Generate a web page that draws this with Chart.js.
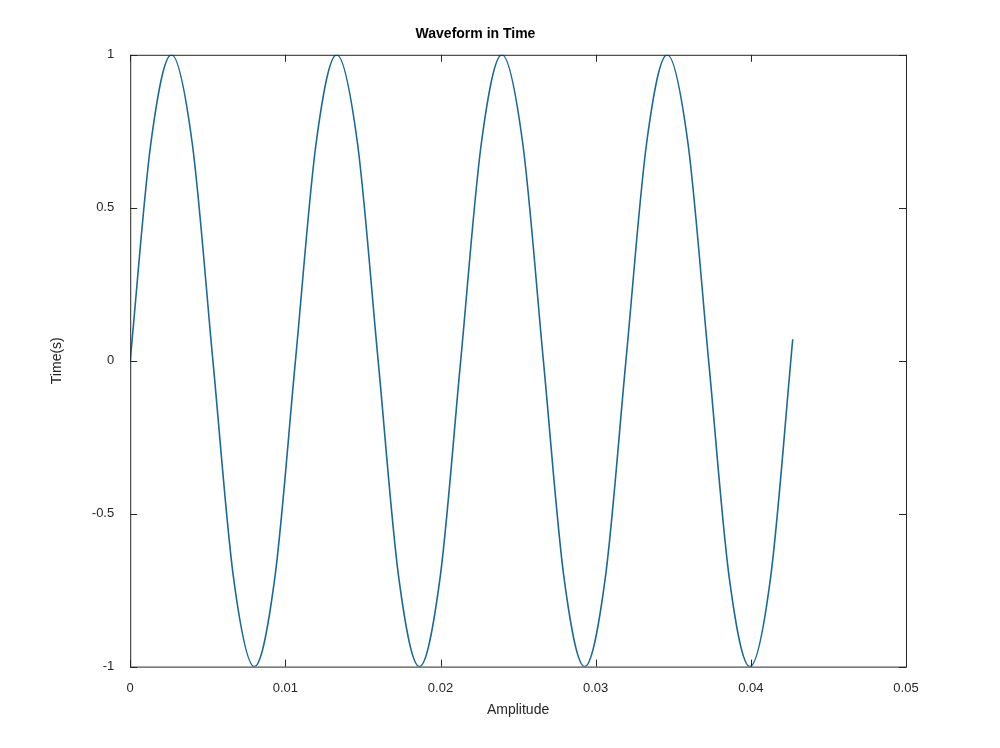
<!DOCTYPE html>
<html><head><meta charset="utf-8">
<script src="https://cdn.jsdelivr.net/npm/chart.js@4"></script>
<style>html,body{margin:0;background:#fff}#w{width:1000px;height:748px}</style>
</head><body><div id="w"><canvas id="c"></canvas></div>
<script>
const xValues=[0,0.00133,0.00266,0.004,0.00533,0.00666,0.008,0.00932,0.01065,0.01198,0.01331,0.01465,0.01598,0.01731,0.01864,0.01997,0.0213,0.02263,0.02396,0.0253,0.02663,0.02796,0.02929,0.03062,0.03195,0.03328,0.03461,0.03595,0.03728,0.03861,0.03994,0.04127,0.0427];
const yValues=[0,0.71,1,0.71,0,-0.71,-1,-0.71,0,0.71,1,0.71,0,-0.71,-1,-0.71,0,0.71,1,0.71,0,-0.71,-1,-0.71,0,0.71,1,0.71,0,-0.71,-1,-0.71,0.07];
const xTicks=[0,0.01,0.02,0.03,0.04,0.05];
const yTicks=[-1,-0.5,0,0.5,1];
const pts=xValues.map((x,i)=>({x,y:yValues[i]}));
const box={id:'box',afterDraw(ch){const {ctx,chartArea:a,scales:{x,y}}=ch;ctx.save();ctx.strokeStyle='#262626';ctx.lineWidth=1;
ctx.strokeRect(a.left+0.5,a.top+0.5,a.right-a.left,a.bottom-a.top);ctx.beginPath();
xTicks.forEach(v=>{const p=Math.round(x.getPixelForValue(v))+0.5;ctx.moveTo(p,a.bottom);ctx.lineTo(p,a.bottom-7);ctx.moveTo(p,a.top);ctx.lineTo(p,a.top+7);});
yTicks.forEach(v=>{const p=Math.round(y.getPixelForValue(v))+0.5;ctx.moveTo(a.left,p);ctx.lineTo(a.left+7,p);ctx.moveTo(a.right,p);ctx.lineTo(a.right-7,p);});
ctx.stroke();ctx.restore();}};
const f={family:'Liberation Sans, Arial, sans-serif',size:13};
new Chart(document.getElementById('c'),{type:'scatter',data:{datasets:[{data:pts,showLine:true,borderColor:'#1a6a98',borderWidth:1.6,pointRadius:0,cubicInterpolationMode:'monotone'}]},
options:{responsive:true,maintainAspectRatio:false,animation:false,layout:{padding:{left:45,right:94,top:14,bottom:25}},
plugins:{legend:{display:false},tooltip:{enabled:false},title:{display:true,text:'Waveform in Time',color:'#000',font:{family:f.family,size:14,weight:'bold'},padding:{top:12,bottom:12}}},
scales:{x:{type:'linear',min:0,max:0.05,afterBuildTicks:s=>{s.ticks=xTicks.map(v=>({value:v}))},grid:{display:false},border:{display:false},ticks:{color:'#262626',font:f,padding:6,maxRotation:0,callback:v=>String(v)},title:{display:true,text:'Amplitude',color:'#262626',font:{family:f.family,size:14},padding:{top:0}}},
y:{min:-1,max:1,afterBuildTicks:s=>{s.ticks=yTicks.map(v=>({value:v}))},grid:{display:false},border:{display:false},ticks:{color:'#262626',font:f,padding:8,callback:v=>String(v)},title:{display:true,text:'Time(s)',color:'#262626',font:{family:f.family,size:14},padding:{bottom:18}}}}},plugins:[box]});
</script></body></html>
